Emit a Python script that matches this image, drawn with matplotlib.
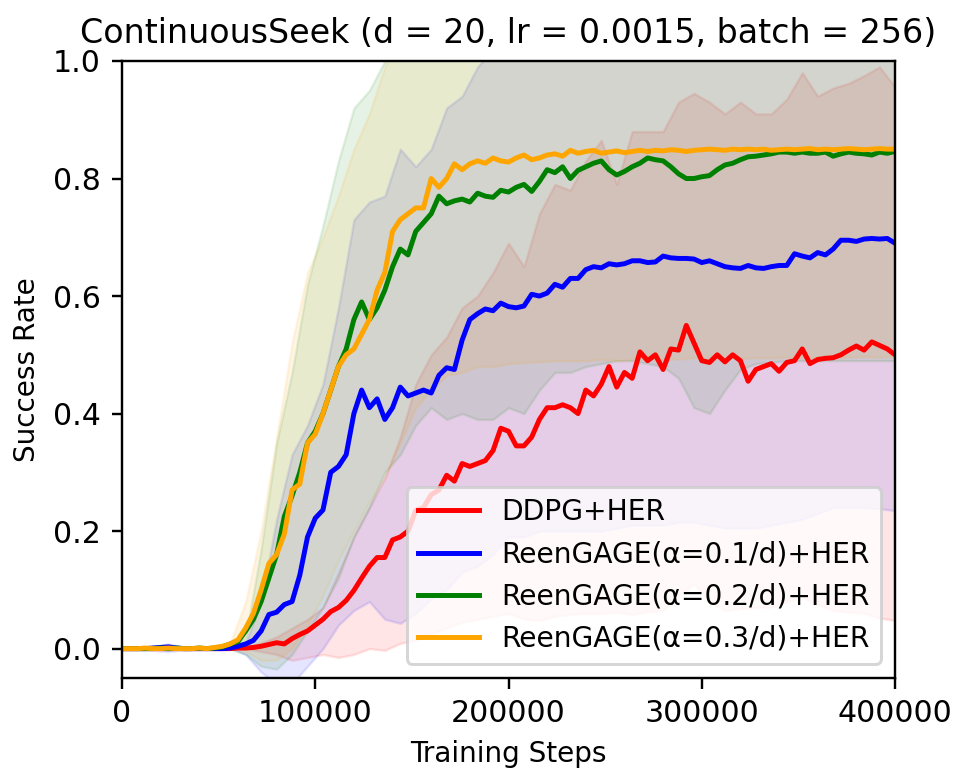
import numpy as np
import matplotlib
matplotlib.use("Agg")
import matplotlib.pyplot as plt

# ---------------- data ----------------
steps = np.arange(0, 400001, 4000)          # mean curves (101 points)
band_steps = np.arange(0, 400001, 8000)     # std bands (51 points)

labels = ["DDPG+HER",
          "ReenGAGE(\u03b1=0.1/d)+HER",
          "ReenGAGE(\u03b1=0.2/d)+HER",
          "ReenGAGE(\u03b1=0.3/d)+HER"]
colors = ["red", "blue", "green", "orange"]

ddpg_mean = [0, 0, 0, 0, 0, 0, 0, 0, 0, 0,
             0, 0, 0, 0, 0, 0.001, 0.001, 0.002, 0.004, 0.007,
             0.01, 0.008, 0.017, 0.024, 0.03, 0.04, 0.05, 0.063, 0.07, 0.082,
             0.099, 0.12, 0.14, 0.155, 0.155, 0.185, 0.19, 0.2, 0.235, 0.24,
             0.262, 0.27, 0.295, 0.285, 0.315, 0.31, 0.315, 0.32, 0.337, 0.375,
             0.37, 0.345, 0.345, 0.36, 0.39, 0.41, 0.41, 0.415, 0.41, 0.4,
             0.44, 0.43, 0.45, 0.48, 0.445, 0.47, 0.46, 0.505, 0.49, 0.5,
             0.475, 0.51, 0.508, 0.55, 0.52, 0.49, 0.487, 0.5, 0.488, 0.5,
             0.49, 0.455, 0.475, 0.48, 0.485, 0.472, 0.487, 0.49, 0.51, 0.485,
             0.492, 0.494, 0.495, 0.5, 0.508, 0.515, 0.508, 0.522, 0.516, 0.51,
             0.5]
reen01_mean = [0, 0, 0, 0, 0.001, 0.002, 0.003, 0.001, 0, 0,
               0, 0, 0, 0, 0.001, 0.004, 0.008, 0.014, 0.03, 0.058,
               0.062, 0.075, 0.08, 0.125, 0.19, 0.222, 0.236, 0.3, 0.31, 0.33,
               0.4, 0.44, 0.41, 0.425, 0.39, 0.41, 0.445, 0.43, 0.435, 0.44,
               0.435, 0.465, 0.478, 0.475, 0.525, 0.56, 0.57, 0.578, 0.575, 0.588,
               0.582, 0.58, 0.583, 0.603, 0.6, 0.605, 0.62, 0.615, 0.63, 0.63,
               0.645, 0.65, 0.648, 0.655, 0.653, 0.655, 0.66, 0.66, 0.657, 0.658,
               0.668, 0.665, 0.664, 0.664, 0.663, 0.657, 0.66, 0.655, 0.65, 0.648,
               0.647, 0.652, 0.648, 0.647, 0.65, 0.652, 0.652, 0.672, 0.668, 0.665,
               0.674, 0.67, 0.68, 0.695, 0.695, 0.693, 0.697, 0.698, 0.697, 0.698,
               0.69]
reen02_mean = [0, 0, 0, 0, 0, 0.001, 0, 0.001, 0, 0,
               0.001, 0, 0.001, 0.003, 0.008, 0.012, 0.03, 0.05, 0.08, 0.12,
               0.16, 0.225, 0.26, 0.3, 0.35, 0.37, 0.4, 0.44, 0.48, 0.51,
               0.56, 0.59, 0.56, 0.58, 0.61, 0.65, 0.68, 0.67, 0.71, 0.725,
               0.74, 0.77, 0.757, 0.762, 0.765, 0.76, 0.775, 0.77, 0.768, 0.78,
               0.777, 0.785, 0.79, 0.778, 0.795, 0.815, 0.81, 0.82, 0.8, 0.814,
               0.82, 0.826, 0.83, 0.815, 0.806, 0.812, 0.82, 0.826, 0.835, 0.832,
               0.83, 0.82, 0.808, 0.8, 0.8, 0.803, 0.805, 0.815, 0.823, 0.826,
               0.832, 0.837, 0.838, 0.84, 0.842, 0.845, 0.845, 0.843, 0.845, 0.843,
               0.843, 0.845, 0.838, 0.842, 0.845, 0.843, 0.842, 0.84, 0.845, 0.843,
               0.846]
reen03_mean = [0, 0, 0, 0.001, 0, 0, 0.001, 0, 0, 0,
               0.001, 0, 0.002, 0.004, 0.008, 0.015, 0.035, 0.06, 0.1, 0.145,
               0.16, 0.195, 0.27, 0.28, 0.35, 0.365, 0.4, 0.44, 0.48, 0.5,
               0.51, 0.535, 0.56, 0.61, 0.64, 0.71, 0.73, 0.74, 0.75, 0.75,
               0.8, 0.785, 0.8, 0.825, 0.815, 0.825, 0.83, 0.826, 0.835, 0.83,
               0.828, 0.835, 0.84, 0.832, 0.835, 0.84, 0.842, 0.838, 0.848, 0.843,
               0.846, 0.848, 0.843, 0.845, 0.847, 0.844, 0.846, 0.848, 0.846, 0.848,
               0.847, 0.849, 0.848, 0.846, 0.848, 0.849, 0.85, 0.849, 0.848, 0.85,
               0.849, 0.85, 0.849, 0.85, 0.848, 0.849, 0.85, 0.849, 0.85, 0.851,
               0.849, 0.85, 0.849, 0.85, 0.851, 0.85, 0.849, 0.85, 0.851, 0.85,
               0.85]

ddpg_lo = [0, 0, 0, 0, 0, 0, 0, 0, 0, -0.005,
           -0.01, -0.02, -0.015, -0.01, -0.015, -0.01, 0.0, -0.003, 0.009, 0.014,
           0.025, 0.035, 0.045, 0.05, 0.055, 0.06, 0.05, 0.048, 0.055, 0.058,
           0.06, 0.06, 0.062, 0.058, 0.063, 0.065, 0.09, 0.11, 0.08, 0.065,
           0.068, 0.07, 0.07, 0.08, 0.087, 0.075, 0.065, 0.062, 0.06, 0.052,
           0.048]
ddpg_hi = [0, 0, 0, 0, 0, 0, 0, 0, 0.003, 0.01,
           0.02, 0.035, 0.05, 0.07, 0.13, 0.19, 0.24, 0.29, 0.36, 0.45,
           0.5, 0.53, 0.58, 0.6, 0.64, 0.69, 0.65, 0.74, 0.79, 0.78,
           0.83, 0.865, 0.79, 0.88, 0.88, 0.88, 0.93, 0.945, 0.93, 0.91,
           0.93, 0.91, 0.91, 0.935, 0.98, 0.94, 0.954, 0.962, 0.975, 0.99,
           0.956]
reen01_lo = [0, 0, -0.003, -0.005, -0.002, 0, 0, 0, -0.01, -0.04,
             -0.06, -0.06, -0.03, 0.0, 0.04, 0.065, 0.08, 0.05, 0.043, 0.06,
             0.085, 0.1, 0.13, 0.14, 0.16, 0.19, 0.19, 0.2, 0.2, 0.2,
             0.2, 0.2, 0.205, 0.21, 0.21, 0.21, 0.215, 0.215, 0.21, 0.205,
             0.205, 0.205, 0.21, 0.215, 0.22, 0.23, 0.24, 0.24, 0.24, 0.238,
             0.235]
reen01_hi = [0, 0, 0.003, 0.008, 0.003, 0, 0, 0, 0.01, 0.08,
             0.22, 0.33, 0.38, 0.45, 0.58, 0.73, 0.76, 0.77, 0.85, 0.82,
             0.85, 0.92, 0.94, 0.99, 1.02, 1.03, 1.05, 1.06, 1.08, 1.08,
             1.1, 1.1, 1.1, 1.1, 1.1, 1.1, 1.1, 1.1, 1.1, 1.1,
             1.1, 1.1, 1.1, 1.1, 1.12, 1.12, 1.12, 1.15, 1.15, 1.15,
             1.15]
reen02_lo = [0, 0, 0, -0.002, 0, 0, 0, 0, -0.01, -0.03,
             -0.035, -0.01, 0.03, 0.07, 0.12, 0.19, 0.24, 0.3, 0.33, 0.38,
             0.41, 0.39, 0.4, 0.39, 0.39, 0.41, 0.4, 0.44, 0.47, 0.47,
             0.48, 0.485, 0.49, 0.49, 0.485, 0.48, 0.46, 0.41, 0.4, 0.44,
             0.475, 0.485, 0.487, 0.49, 0.49, 0.49, 0.49, 0.49, 0.49, 0.49,
             0.49]
reen02_hi = [0, 0, 0, 0.002, 0, 0, 0, 0, 0.02, 0.17,
             0.35, 0.47, 0.62, 0.72, 0.83, 0.92, 0.95, 1.0, 1.05, 1.08,
             1.1, 1.12, 1.12, 1.14, 1.15, 1.15, 1.15, 1.15, 1.15, 1.15,
             1.15, 1.15, 1.15, 1.15, 1.15, 1.15, 1.15, 1.15, 1.15, 1.15,
             1.15, 1.15, 1.15, 1.15, 1.15, 1.15, 1.15, 1.15, 1.15, 1.15,
             1.15]
reen03_lo = [0, 0, 0, 0, 0, 0, 0, 0, -0.005, -0.02,
             -0.02, 0.0, 0.04, 0.09, 0.15, 0.2, 0.25, 0.29, 0.35, 0.41,
             0.44, 0.465, 0.47, 0.48, 0.48, 0.485, 0.487, 0.488, 0.49, 0.49,
             0.49, 0.492, 0.49, 0.492, 0.493, 0.492, 0.493, 0.495, 0.494, 0.495,
             0.494, 0.495, 0.495, 0.496, 0.495, 0.496, 0.495, 0.496, 0.497, 0.496,
             0.497]
reen03_hi = [0, 0, 0, 0, 0, 0, 0, 0.01, 0.08, 0.2,
             0.36, 0.52, 0.64, 0.7, 0.77, 0.85, 0.91, 0.99, 1.05, 1.1,
             1.15, 1.15, 1.15, 1.18, 1.18, 1.18, 1.2, 1.2, 1.2, 1.2,
             1.2, 1.2, 1.2, 1.2, 1.2, 1.2, 1.2, 1.2, 1.2, 1.2,
             1.2, 1.2, 1.2, 1.2, 1.2, 1.2, 1.2, 1.2, 1.2, 1.2,
             1.2]

means = [ddpg_mean, reen01_mean, reen02_mean, reen03_mean]
lows = [ddpg_lo, reen01_lo, reen02_lo, reen03_lo]
highs = [ddpg_hi, reen01_hi, reen02_hi, reen03_hi]

xticks = [0, 100000, 200000, 300000, 400000]
yticks = [0.0, 0.2, 0.4, 0.6, 0.8, 1.0]

# ---------------- figure ----------------
DPI = 216
fig = plt.figure(figsize=(969 / DPI, 782 / DPI), dpi=DPI)
ax = fig.add_axes([122 / 969, 1 - 678 / 782, (895 - 122) / 969, (678 - 61) / 782])

for lo, hi, c in zip(lows, highs, colors):
    ax.fill_between(band_steps, lo, hi, color=c, alpha=0.1, linewidth=0.8)

for m, c, lab in zip(means, colors, labels):
    ax.plot(steps, m, color=c, linewidth=1.65, label=lab)

ax.set_xlim(0, 400000)
ax.set_ylim(-0.05, 1.0)
ax.set_xticks(xticks)
ax.set_xticklabels([str(t) for t in xticks])
ax.set_yticks(yticks)
ax.set_yticklabels([f"{t:.1f}" for t in yticks])
ax.tick_params(labelsize=10)
ax.set_xlabel("Training Steps", fontsize=9.3)
ax.set_ylabel("Success Rate", fontsize=9.3)
ax.set_title("ContinuousSeek (d = 20, lr = 0.0015, batch = 256)", fontsize=11.1)
ax.legend(loc="lower right", fontsize=9.4, handlelength=2.15)

fig.savefig("out.png", dpi=DPI)
